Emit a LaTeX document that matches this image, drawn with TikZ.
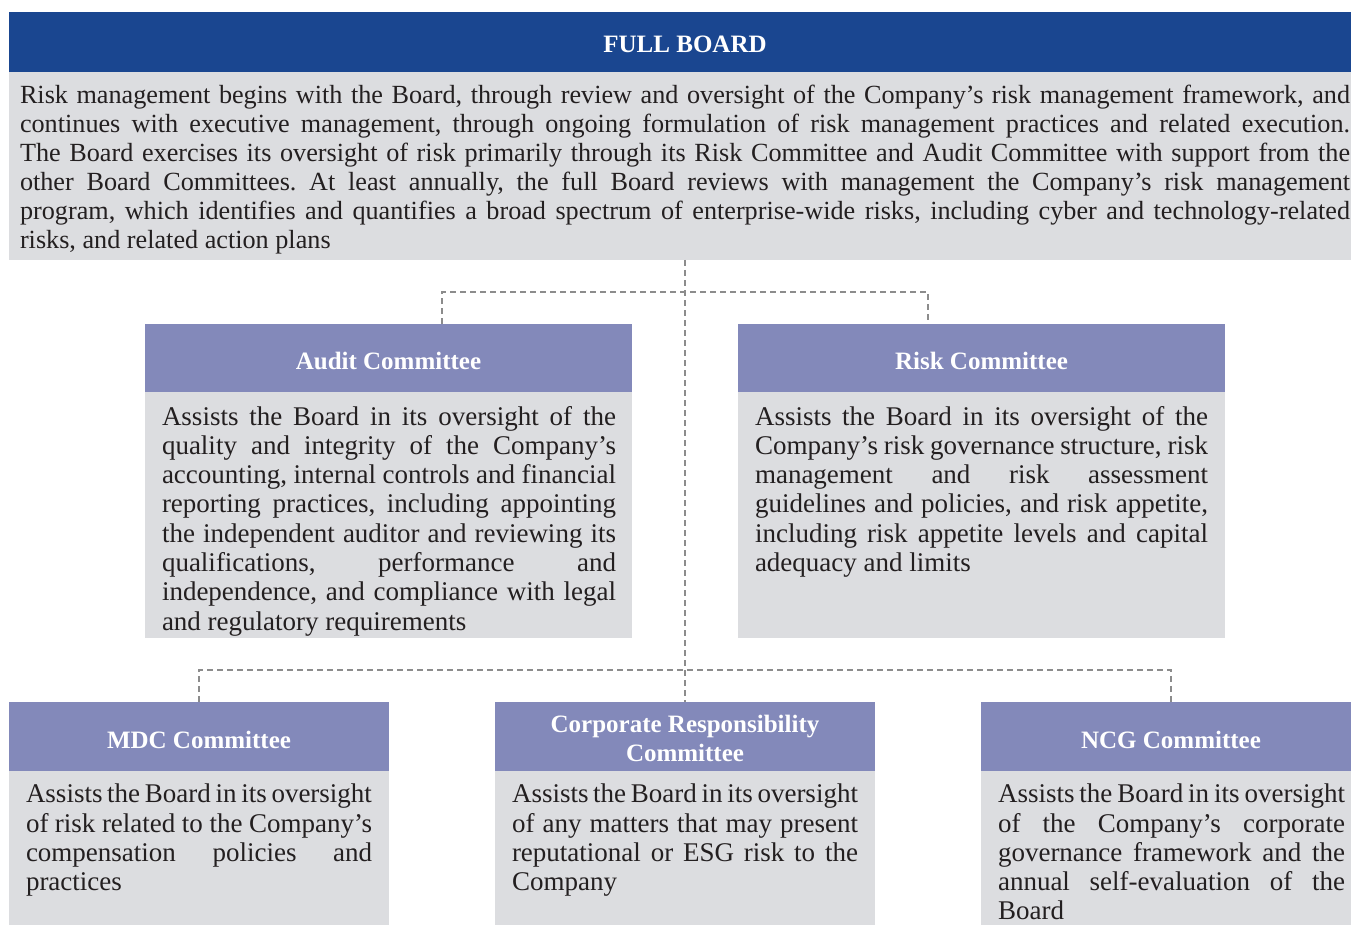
\documentclass[tikz,border=0pt]{standalone}
\usepackage{fontspec}
\setmainfont{Liberation Serif}
\definecolor{boardblue}{HTML}{1A4690}
\definecolor{hdrpurple}{HTML}{8389BA}
\definecolor{bodygrey}{HTML}{DCDDE0}
\definecolor{txt}{HTML}{231F20}
\definecolor{dashgrey}{HTML}{8C8C8C}
\hbadness=10000 \hfuzz=2pt
\hyphenpenalty=10000\relax
\exhyphenpenalty=10000\relax
\frenchspacing
\begin{document}
\begin{tikzpicture}[x=1pt,y=-1pt,
  box/.style={inner sep=0pt, outer sep=0pt, anchor=north west},
  hdrbox/.style={box, fill=hdrpurple},
  hdrlabel/.style={inner sep=0pt, text=white, font=\fontsize{25}{29}\selectfont\bfseries, align=center},
  bodybox/.style={box, fill=bodygrey},
  bodytext/.style={inner sep=0pt, outer sep=0pt, anchor=north west, text=txt,
    font=\fontsize{27}{29.3}\selectfont, align=justify},
  link/.style={dashgrey, line width=2pt, dash pattern=on 6pt off 4pt}]
\useasboundingbox (0,0) rectangle (1351,925);
% Full board
\node[box, fill=boardblue, minimum width=1342pt, minimum height=60pt] (boardh) at (9,12) {};
\node[hdrlabel] (boardl) at ([xshift=5pt,yshift=-2pt]boardh.center) {FULL BOARD};
\node[bodybox, minimum width=1342pt, minimum height=188pt] (boardb) at (9,72) {};
\node[bodytext, text width=1330pt, font=\fontsize{26.2}{29}\selectfont] (boardt) at (20,85) {Risk management begins with the Board, through review and oversight of the Company’s risk management framework, and\linebreak continues with executive management, through ongoing formulation of risk management practices and related execution.\linebreak The Board exercises its oversight of risk primarily through its Risk Committee and Audit Committee with support from the\linebreak other Board Committees. At least annually, the full Board reviews with management the Company’s risk management\linebreak program, which identifies and quantifies a broad spectrum of enterprise-wide risks, including cyber and technology-related\linebreak risks, and related action plans};
% Audit
\node[hdrbox, minimum width=487pt, minimum height=68pt] (audh) at (145,324) {};
\node[hdrlabel] (audl) at ([yshift=-3pt]audh.center) {Audit Committee};
\node[bodybox, minimum width=487pt, minimum height=246pt] (audb) at (145,392) {};
\node[bodytext, text width=454pt] (audt) at (162,406) {Assists the Board in its oversight of the\linebreak quality and integrity of the Company’s\linebreak accounting, internal controls and financial\linebreak reporting practices, including appointing\linebreak the independent auditor and reviewing its\linebreak qualifications, performance and\linebreak independence, and compliance with legal\linebreak and regulatory requirements};
% Risk
\node[hdrbox, minimum width=487pt, minimum height=68pt] (riskh) at (738,324) {};
\node[hdrlabel] (riskl) at ([yshift=-3pt]riskh.center) {Risk Committee};
\node[bodybox, minimum width=487pt, minimum height=246pt] (riskb) at (738,392) {};
\node[bodytext, text width=453pt] (riskt) at (755,406) {Assists the Board in its oversight of the\linebreak Company’s risk governance structure, risk\linebreak management and risk assessment\linebreak guidelines and policies, and risk appetite,\linebreak including risk appetite levels and capital\linebreak adequacy and limits};
% MDC
\node[hdrbox, minimum width=380pt, minimum height=69pt] (mdch) at (9,702) {};
\node[hdrlabel] (mdcl) at ([yshift=-3pt]mdch.center) {MDC Committee};
\node[bodybox, minimum width=380pt, minimum height=154pt] (mdcb) at (9,771) {};
\node[bodytext, text width=346pt] (mdct) at (26,784) {Assists the Board in its oversight\linebreak of risk related to the Company’s\linebreak compensation policies and\linebreak practices};
% Corporate Responsibility
\node[hdrbox, minimum width=380pt, minimum height=69pt] (crh) at (495,702) {};
\node[hdrlabel] (crl) at ([yshift=-2pt]crh.center) {Corporate Responsibility\\Committee};
\node[bodybox, minimum width=380pt, minimum height=154pt] (crb) at (495,771) {};
\node[bodytext, text width=346pt] (crt) at (512,784) {Assists the Board in its oversight\linebreak of any matters that may present\linebreak reputational or ESG risk to the\linebreak Company};
% NCG
\node[hdrbox, minimum width=370pt, minimum height=69pt] (ncgh) at (981,702) {};
\node[hdrlabel] (ncgl) at ([xshift=5pt,yshift=-3pt]ncgh.center) {NCG Committee};
\node[bodybox, minimum width=370pt, minimum height=154pt] (ncgb) at (981,771) {};
\node[bodytext, text width=347pt] (ncgt) at (998,784) {Assists the Board in its oversight\linebreak of the Company’s corporate\linebreak governance framework and the\linebreak annual self-evaluation of the\linebreak Board};
% connectors
\coordinate (audtap) at (442,324);
\coordinate (risktap) at (928,324);
\coordinate (ncgtap) at (1171,702);
\draw[link] (crh.north |- boardb.south) -- (crh.north);
\draw[link] (audtap) -- ++(0,-32) -| (risktap);
\draw[link] (mdch.north) -- ++(0,-32) -| (ncgtap);
\end{tikzpicture}
\end{document}
